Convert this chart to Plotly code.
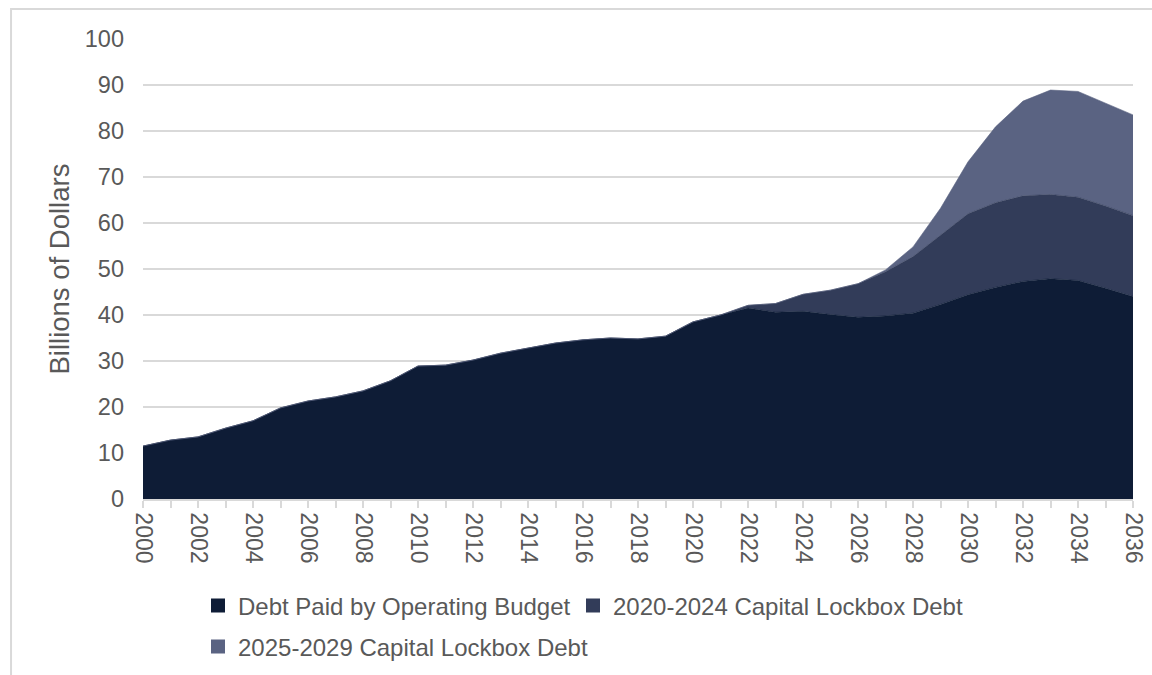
import plotly.graph_objects as go

# Fiscal years shown on the horizontal axis
years = list(range(2000, 2037))

# Debt service, billions of dollars (stacked layers)
operating_budget = [11.5, 12.8, 13.5, 15.4, 17.0, 19.8, 21.3, 22.2, 23.5, 25.7,
                    28.9, 29.1, 30.2, 31.7, 32.8, 33.9, 34.6, 35.0, 34.8, 35.4,
                    38.5, 40.0, 41.5, 40.6, 40.8, 40.1, 39.5, 39.8, 40.4, 42.3,
                    44.4, 46.0, 47.3, 47.9, 47.5, 45.8, 44.0]
lockbox_2020_2024 = [0.0] * 21 + [0.0, 0.6, 1.9, 3.7, 5.3, 7.3, 9.6, 12.3, 15.1,
                                  17.6, 18.4, 18.6, 18.3, 18.1, 17.9, 17.6]
lockbox_2025_2029 = [0.0] * 27 + [0.4, 2.1, 5.8, 11.3, 16.5, 20.6, 22.7, 23.0,
                                  22.3, 21.9]

series_names = ["Debt Paid by Operating Budget",
                "2020-2024 Capital Lockbox Debt",
                "2025-2029 Capital Lockbox Debt"]
series_colors = ["#0E1C36", "#323C59", "#5A6382"]
series_values = [operating_budget, lockbox_2020_2024, lockbox_2025_2029]

y_ticks = list(range(0, 101, 10))
x_ticks = list(range(2000, 2037, 2))

TEXT = "#595959"
GRID = "#D9D9D9"
FONT = "Liberation Sans, Arial, sans-serif"

fig = go.Figure()

for name, color, vals in zip(series_names, series_colors, series_values):
    fig.add_trace(go.Scatter(
        x=years, y=vals, name=name, stackgroup="one", mode="lines",
        line=dict(width=0.6, color=color), fillcolor=color,
        showlegend=False, hoverinfo="x+y+name",
    ))

# Square swatches, one legend box per entry so each sits where it belongs
legend_ids = ["legend", "legend2", "legend3"]
for name, color, lid in zip(series_names, series_colors, legend_ids):
    fig.add_trace(go.Scatter(
        x=[None], y=[None], name=name, mode="markers", legend=lid,
        marker=dict(symbol="square", size=14, color=color),
    ))

legend_style = dict(orientation="h", xanchor="left", yanchor="middle",
                    font=dict(size=24, color=TEXT), itemwidth=30,
                    bgcolor="rgba(0,0,0,0)")

fig.update_layout(
    width=1152, height=675,
    margin=dict(l=143, r=19, t=39, b=176, autoexpand=False),
    paper_bgcolor="white", plot_bgcolor="white",
    font=dict(family=FONT, color=TEXT, size=23),
    legend=dict(x=(198 - 143) / 990, y=(499 - 606) / 460, **legend_style),
    legend2=dict(x=(573 - 143) / 990, y=(499 - 606) / 460, **legend_style),
    legend3=dict(x=(198 - 143) / 990, y=(499 - 647) / 460, **legend_style),
    shapes=[dict(
        type="rect", xref="paper", yref="paper",
        x0=-0.1333, x1=1.04, y0=-0.45, y1=1.0652,
        line=dict(color=GRID, width=2), fillcolor="rgba(0,0,0,0)", layer="below",
    )],
    annotations=[dict(
        text="Billions of Dollars", xref="paper", yref="paper",
        x=(59 - 143) / 990, y=(499 - 269.5) / 460, xanchor="center",
        yanchor="middle", textangle=-90, showarrow=False,
        font=dict(size=27.5, color=TEXT),
    )],
)

fig.update_xaxes(
    range=[2000, 2036], tickvals=x_ticks, ticktext=[str(v) for v in x_ticks],
    tickangle=90, showgrid=False, zeroline=False,
    showline=True, linecolor=GRID, linewidth=1.5,
    ticks="outside", ticklen=7, tickcolor=GRID, tickwidth=1.5,
    minor=dict(dtick=1, tick0=2000, ticks="outside", ticklen=7,
               tickcolor=GRID, tickwidth=1.5, showgrid=False),
    tickfont=dict(size=23, color=TEXT),
)
fig.update_yaxes(
    range=[0, 100], tickvals=y_ticks, showgrid=True, gridcolor=GRID,
    gridwidth=1.5, zeroline=False, showline=False, ticks="",
    ticklabelstandoff=18, tickfont=dict(size=23.5, color=TEXT),
)

fig.write_html("out.html")
